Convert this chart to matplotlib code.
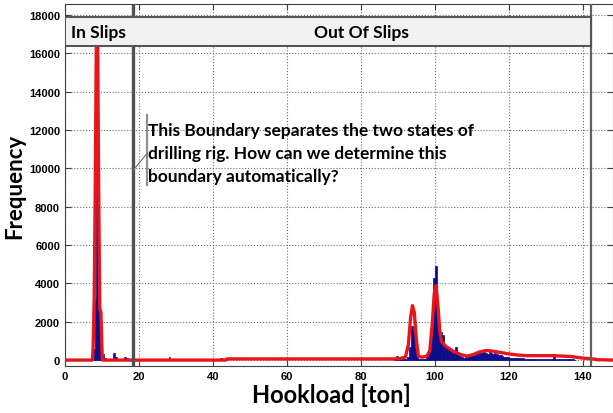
import numpy as np
import matplotlib
matplotlib.use("Agg")
import matplotlib.pyplot as plt
from matplotlib.patches import Rectangle

# histogram bins near the in-slips peak (center, count)
lo_x = [7.75, 8.25, 8.75, 9.25, 9.75, 10.25, 10.75, 11.25, 12.25, 13.25, 13.75,
        14.75, 16.25, 16.75, 28.25, 32.25, 42.25]
lo_y = [600, 3200, 16000, 2600, 700, 300, 100, 80, 60, 360, 150,
        50, 150, 120, 150, 80, 100]

# histogram bins for the out-of-slips range, 0.5 ton bins from 89.25
hi_y = [120, 230, 80, 30, 30, 40, 60, 150, 700, 1800,
        1500, 700, 200, 80, 50, 60, 80, 150, 300, 900,
        2200, 4300, 4900, 2300, 1200, 1450, 1300, 800, 650, 550,
        450, 380, 420, 680, 300, 200, 150, 130, 150, 180,
        200, 230, 250, 280, 300, 330, 360, 380, 420, 380,
        330, 420, 360, 300, 380, 300, 250, 280, 220, 180,
        160, 140, 120, 110, 100, 100, 90, 90, 90, 85,
        80, 80, 80, 75, 70, 70, 70, 70, 65, 65,
        60, 60, 60, 60, 65, 70, 330, 80, 60, 60,
        55, 50, 50, 45, 40, 40, 30, 20]
hi_x = 89.25 + 0.5 * np.arange(len(hi_y))

# smoothed density curve (red)
red_x = [0, 7.4, 7.6, 7.9, 8.2, 8.5, 8.8, 9.1, 9.4, 9.7, 10.1, 43.5, 43.8, 90,
         92.0, 92.8, 93.4, 93.9, 94.4, 94.9, 95.5, 96.5, 97.8, 98.6, 99.3,
         99.8, 100.3, 100.8, 101.3, 101.8, 103, 104, 105, 106.8, 108.6,
         110.5, 112, 113.8, 115.5, 117.5, 120.3, 122.5, 124.8, 128, 131.9,
         134, 136.5, 140, 142.7, 144, 148.1]
red_y = [0, 0, 600, 3200, 9300, 17500, 17500, 9000, 2700, 2500, 0, 0, 60, 60,
         150, 800, 2200, 2840, 2500, 1200, 200, 150, 200, 500, 2000,
         3500, 3900, 2800, 1500, 950, 700, 580, 450, 300, 200,
         300, 420, 500, 470, 400, 310, 260, 230, 230, 230,
         210, 190, 100, 60, 20, 0]

boundary_in = 18.3
boundary_out = 142.2

plt.rcParams['font.family'] = ['Lato', 'DejaVu Sans']

fig = plt.figure(figsize=(6.13, 4.14), dpi=100)
ax = fig.add_axes([0.106, 0.1135, 0.894, 0.8745])

blue = '#0b0b8a'
ax.bar(lo_x, lo_y, width=0.5, color=blue, edgecolor=blue, linewidth=0.5, zorder=2)
ax.bar(hi_x, hi_y, width=0.5, color=blue, edgecolor=blue, linewidth=0.5, zorder=2)
ax.plot(red_x, red_y, color='#e8161b', lw=2.4, zorder=3, solid_joinstyle='round')

ax.set_xlim(0, 148.1)
ax.set_ylim(-310, 18575)
ax.set_xticks(range(0, 141, 20))
ax.set_yticks(range(0, 18001, 2000))
ax.grid(True, linestyle=':', color='#707070', lw=0.8)
ax.set_axisbelow(True)
ax.tick_params(direction='in', length=4, top=True, right=True, color='#404040')
for lab in ax.get_xticklabels() + ax.get_yticklabels():
    lab.set_family(['Liberation Sans Narrow', 'Liberation Sans'])
    lab.set_fontweight('bold')
    lab.set_fontsize(8)
for sp in ax.spines.values():
    sp.set_color('#404040')

# state boundaries
ax.axvline(boundary_in, color='#505050', lw=2.4, zorder=5)
ax.axvline(boundary_out, color='#606060', lw=1.6, zorder=5)

# header band
ax.add_patch(Rectangle((0, 16370), boundary_out, 1530, facecolor='#f2f2f2',
                       edgecolor='#555555', lw=1.5, zorder=6))
ax.text(boundary_in / 2, 17135, 'In Slips', ha='center', va='center',
        fontsize=12.5, fontweight='bold', zorder=7)
ax.text((boundary_in + boundary_out) / 2, 17135, 'Out Of Slips', ha='center',
        va='center', fontsize=12.5, fontweight='bold', zorder=7)

# callout
ax.plot([22.2, 22.2], [9110, 12775], color='#909090', lw=1.6, zorder=5)
ax.plot([18.4, 22.2], [9895, 10785], color='#707070', lw=0.8, zorder=5)
lines = ['This Boundary separates the two states of',
         'drilling rig. How can we determine this',
         'boundary automatically?']
for i, s in enumerate(lines):
    ax.text(22.5, 11760 - i * 1200, s, ha='left', va='baseline',
            fontsize=12.5, fontweight='bold', zorder=7)

ax.set_xlabel('Hookload [ton]', fontsize=17, fontweight='bold')
ax.xaxis.set_label_coords(0.487, -0.045)
ax.set_ylabel('Frequency', fontsize=16, fontweight='bold')
ax.yaxis.set_label_coords(-0.072, 0.5)

fig.savefig('out.png', dpi=100)
